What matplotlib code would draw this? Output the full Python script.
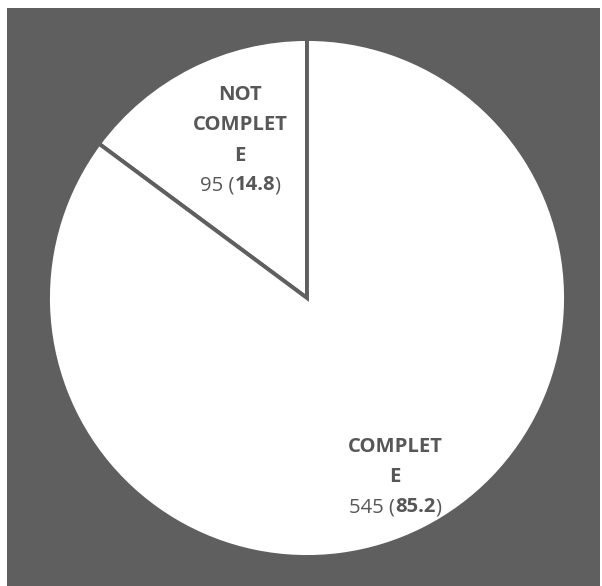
import matplotlib
matplotlib.use("Agg")
import matplotlib.pyplot as plt
from matplotlib.patches import Rectangle

categories = ["NOT COMPLETE", "COMPLETE"]
label_lines = [["NOT", "COMPLET", "E"], ["COMPLET", "E"]]
counts = [95, 545]
percents = [14.8, 85.2]

W, H = 602, 586
fig = plt.figure(figsize=(W / 100, H / 100), dpi=100)
fig.patch.set_facecolor("white")
ax = fig.add_axes([0, 0, 1, 1])

BG = "#5f5f5f"
TXT = "#575757"

wedges, _ = ax.pie(counts, startangle=90, counterclock=True, center=(307, H - 298), radius=259,
                   colors=["white", "white"],
                   wedgeprops=dict(edgecolor=BG, linewidth=2.8))
for w in wedges:
    w.set_zorder(1)
ax.add_patch(Rectangle((7, 0), 593, H - 8, facecolor=BG, edgecolor="none", zorder=0))
ax.set_xlim(0, W)
ax.set_ylim(0, H)
ax.set_aspect("auto")
ax.axis("off")

FONT = "Open Sans"
FS = 14.6

renderer = fig.canvas.get_renderer()

def mixed_line(x, y, parts):
    objs = []
    for txt, weight, kern in parts:
        t = ax.text(0, H - y, txt, fontsize=FS, fontweight=weight, family=FONT, color=TXT,
                    ha="left", va="center", zorder=3)
        objs.append((t, kern))
    widths = [o.get_window_extent(renderer).width for o, _ in objs]
    total = sum(widths) + sum(k for _, k in objs)
    cur = x - total / 2
    for (o, k), wd in zip(objs, widths):
        cur += k
        o.set_x(cur)
        cur += wd

def label(x, y0, lines, count, pct, step=30.5):
    y = y0
    for ln in lines:
        ax.text(x, H - y, ln, fontsize=FS, fontweight="bold", family=FONT, color=TXT,
                ha="center", va="center", zorder=3)
        y += step
    mixed_line(x, y - 1, [(f"{count} (", "normal", 0), (f"{pct}", "bold", 0.5), (")", "normal", -1)])

label(240, 95, label_lines[0], counts[0], percents[0])
label(395, 447, label_lines[1], counts[1], percents[1])

fig.savefig("out.png", dpi=100, facecolor="white")
